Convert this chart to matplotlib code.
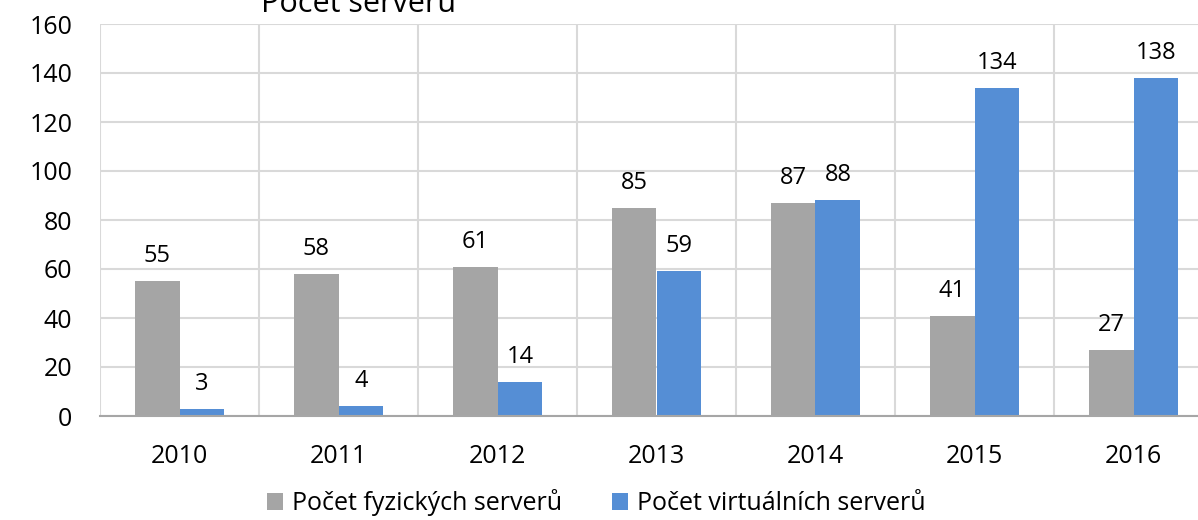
import matplotlib
matplotlib.use("Agg")
import matplotlib.pyplot as plt
import numpy as np

years = ["2010", "2011", "2012", "2013", "2014", "2015", "2016"]
physical = [55, 58, 61, 85, 87, 41, 27]
virtual = [3, 4, 14, 59, 88, 134, 138]
series_names = ["Počet fyzických serverů", "Počet virtuálních serverů"]
title = "Počet serverů"

plt.rcParams['font.family'] = ['Open Sans', 'DejaVu Sans']

fig = plt.figure(figsize=(11.98, 5.2), dpi=100)
ax = fig.add_axes([100/1198, 1-416/520, 1113/1198, 392/520])

x = np.arange(len(years))
w = 0.283
gray = "#A5A5A5"
blue = "#558ED5"
b1 = ax.bar(x - w/2, physical, w, color=gray, label=series_names[0], zorder=3)
b2 = ax.bar(x + w/2, virtual, w, color=blue, label=series_names[1], zorder=3)

for bars, vals in ((b1, physical), (b2, virtual)):
    for r, v in zip(bars, vals):
        ax.annotate(str(v), (r.get_x() + r.get_width()/2, v), xytext=(0, 18),
                    textcoords="offset points", ha="center", va="center", fontsize=17, color="#000000")

ax.set_xlim(-0.5, len(years) - 0.5)
ax.set_ylim(0, 160)
ax.set_yticks(np.arange(0, 161, 20))
ax.set_xticks(x)
ax.set_xticklabels(years)
ax.set_xticks(np.arange(-0.5, len(years), 1), minor=True)
ax.grid(axis='y', which='major', color="#D9D9D9", linewidth=1.5, zorder=0)
ax.grid(axis='x', which='minor', color="#D9D9D9", linewidth=1.5, zorder=0)
ax.grid(axis='x', which='major', visible=False)
ax.tick_params(axis='both', which='both', length=0, labelsize=18)
ax.tick_params(axis='y', pad=20)
ax.tick_params(axis='x', pad=20)
for s in ["left", "right", "top"]:
    ax.spines[s].set_visible(False)
ax.spines["bottom"].set_color("#A6A6A6")
ax.spines["bottom"].set_linewidth(1.5)
ax.spines["bottom"].set_zorder(4)

fig.text(358/1198, 1 - 12/520, title, ha="center", va="baseline", fontsize=22)

fig.legend(handles=[b1, b2], loc="center", bbox_to_anchor=(596/1198, 1 - 503/520),
           ncol=2, frameon=False, fontsize=18, handlelength=0.65, handleheight=0.65,
           handletextpad=0.35, columnspacing=2.0)

fig.savefig("out.png", dpi=100)
